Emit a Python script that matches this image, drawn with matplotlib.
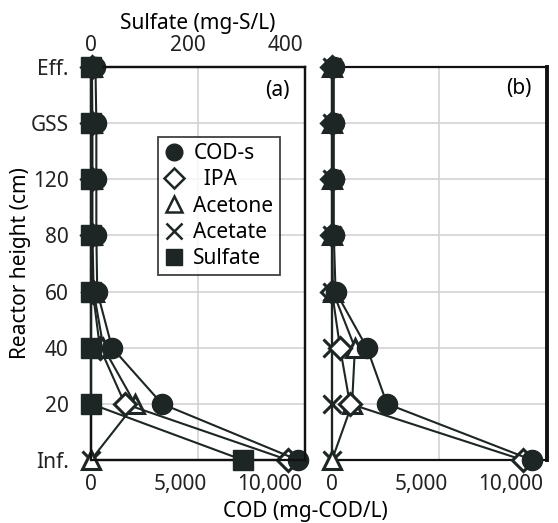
import numpy as np
import matplotlib
matplotlib.use("Agg")
from matplotlib import pyplot as plt
from matplotlib.lines import Line2D

plt.rcParams['font.family'] = ['Noto Sans', 'DejaVu Sans']

# heights, bottom (Inf.) to top (Eff.)
heights = ['Inf.', '20', '40', '60', '80', '120', 'GSS', 'Eff.']

# panel (a), COD in mg-COD/L
cod_a = [11600, 3980, 1180, 350, 300, 300, 300, 250]
ipa_a = [11050, 1900, 500, 100, 50, 50, 50, 30]
acetone_a = [0, 2470, 700, 150, 80, 80, 80, 50]
acetate_a = [0, 0, 0, 0, 0, 0, 0, 0]
# panel (a), sulfate in mg-S/L
sulfate_a = [312, 0, 0, 0, 0, 0, 0, 0]

# panel (b)
cod_b = [11160, 3070, 1950, 200, 100, 100, 100, 100]
ipa_b = [10660, 1000, 450, 0, 0, 0, 0, 0]
acetone_b = [0, 1120, 1280, 50, 0, 0, 0, 0]
acetate_b = [0, 0, 0, 0, 0, 0, 0, 0]

dark = '#1d2624'
grid_c = '#d3d3d3'
fs = 15

fig = plt.figure(figsize=(5.58, 5.23), dpi=100)
ax_a = fig.add_axes([91/558, 63/523, 214/558, 393/523])
ax_b = fig.add_axes([332/558, 63/523, 215/558, 393/523])

y = np.arange(len(heights))

def draw_panel(ax, cod, ipa, acetone, acetate):
    ax.plot(acetate, y, marker='x', ms=13, mew=2.2, color=dark, lw=1.5,
            clip_on=False, zorder=3)
    ax.plot(acetone, y, marker='^', ms=13, mew=2.2, mfc='white', mec=dark,
            color=dark, lw=1.5, clip_on=False, zorder=3)
    ax.plot(ipa, y, marker='D', ms=11, mew=2.2, mfc='white', mec=dark,
            color=dark, lw=1.5, clip_on=False, zorder=3)
    ax.plot(cod, y, marker='o', ms=14.5, color=dark, lw=1.5,
            clip_on=False, zorder=4)
    ax.set_xlim(0, 12000)
    ax.set_ylim(0, 7)
    ax.set_xticks([0, 5000, 10000])
    ax.set_xticklabels(['0', '5,000', '10,000'])
    ax.set_yticks(y)
    # grid: one line per height, one at the middle of the COD range
    for yy in y[1:-1]:
        ax.axhline(yy, color=grid_c, lw=1.2, zorder=0)
    ax.axvline(6000, color=grid_c, lw=1.2, zorder=0)
    ax.tick_params(length=0, labelsize=fs, colors='#222222')
    ax.tick_params(axis='x', pad=10)
    for s in ax.spines.values():
        s.set_color('#111111')
        s.set_linewidth(1.6)

draw_panel(ax_a, cod_a, ipa_a, acetone_a, acetate_a)
draw_panel(ax_b, cod_b, ipa_b, acetone_b, acetate_b)

ax_a.set_yticklabels(heights)
ax_a.tick_params(axis='y', pad=16)
ax_a.set_ylabel('Reactor height (cm)', fontsize=fs, labelpad=0)
ax_b.set_yticklabels([])
ax_b.spines['right'].set_linewidth(2.8)

# sulfate on top axis of panel (a)
ax_s = ax_a.twiny()
ax_s.plot(sulfate_a, y, marker='s', ms=15, color=dark, lw=1.5,
          clip_on=False, zorder=5)
ax_s.set_xlim(0, 440)
ax_s.set_ylim(0, 7)
ax_s.set_xticks([0, 200, 400])
ax_s.tick_params(length=0, labelsize=fs, pad=8, colors='#222222')
ax_s.set_xlabel('Sulfate (mg-S/L)', fontsize=fs, labelpad=4)
for s in ax_s.spines.values():
    s.set_color('#111111')
    s.set_linewidth(1.6)

ax_a.text(0.93, 0.94, '(a)', transform=ax_a.transAxes, ha='right', va='center', fontsize=fs)
ax_b.text(0.93, 0.945, '(b)', transform=ax_b.transAxes, ha='right', va='center', fontsize=fs)

fig.text(305/558, 1 - 511/523, 'COD (mg-COD/L)', ha='center', va='center', fontsize=fs)

handles = [
    Line2D([], [], ls='none', marker='o', ms=12, color=dark),
    Line2D([], [], ls='none', marker='D', ms=10, mfc='white', mec=dark, mew=1.8),
    Line2D([], [], ls='none', marker='^', ms=11, mfc='white', mec=dark, mew=1.8),
    Line2D([], [], ls='none', marker='x', ms=11, mew=1.8, color=dark),
    Line2D([], [], ls='none', marker='s', ms=11, color=dark),
]
labels = ['COD-s', '  IPA', 'Acetone', 'Acetate', 'Sulfate']
leg = ax_s.legend(handles, labels, loc='upper left', bbox_to_anchor=(158/558, 1 - 137/523),
                  bbox_transform=fig.transFigure, frameon=True, fancybox=False,
                  edgecolor='#111111', fontsize=15, handlelength=0.9, handletextpad=0.5,
                  labelspacing=0.25, borderpad=0.3, borderaxespad=0)
leg.get_frame().set_linewidth(1.3)
leg.set_zorder(10)

fig.savefig('out.png', dpi=100)
